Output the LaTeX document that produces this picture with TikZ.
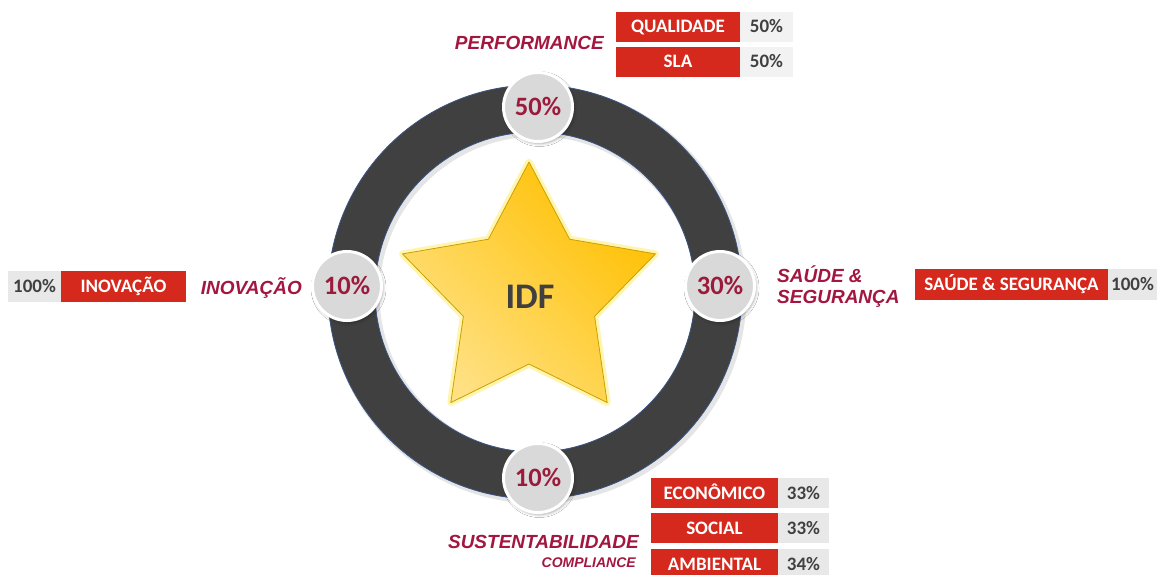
\documentclass[tikz,border=0pt]{standalone}
\usepackage{fontspec}
\setmainfont{Carlito}
\newfontfamily\arialf{Liberation Sans}
\usetikzlibrary{shadows.blur}
\definecolor{ringgray}{HTML}{404040}
\definecolor{ringedge}{HTML}{3A5585}
\definecolor{circfill}{HTML}{D9D9D9}
\definecolor{pcttext}{HTML}{9B1B3C}
\definecolor{labcol}{HTML}{A3163F}
\definecolor{boxred}{HTML}{D6291E}
\definecolor{boxgray}{HTML}{E8E8E8}
\definecolor{boxgraylt}{HTML}{F2F2F2}
\definecolor{txtdark}{HTML}{404040}
\definecolor{starlight}{HTML}{FFE184}
\definecolor{stardark}{HTML}{FFC000}
\definecolor{staredge}{HTML}{C9A000}
\definecolor{starglow}{HTML}{FFF39A}
\begin{document}
\begin{tikzpicture}[x=1pt,y=-1pt,
  pctcircle/.style={circle, fill=circfill, draw=white, line width=3, minimum size=69,
    inner sep=0, font=\fontsize{26.5}{26.5}\selectfont\bfseries, text=pcttext,
    text height=16.7, text depth=0,
    blur shadow={shadow xshift=1.5pt, shadow yshift=-2pt, shadow blur radius=3pt, shadow opacity=35}},
  redbox/.style={fill=boxred, text=white, inner sep=0, minimum height=30,
    font=\fontsize{19}{19}\selectfont\bfseries, text height=12, text depth=0},
  graybox/.style={fill=boxgray, text=txtdark, inner sep=0, minimum height=30,
    font=\fontsize{19}{19}\selectfont\bfseries, text height=12, text depth=0},
  lbl/.style={font=\arialf\fontsize{19}{22}\selectfont\bfseries\itshape, text=labcol, inner sep=0},
  smalllbl/.style={font=\arialf\fontsize{14}{16}\selectfont\bfseries\itshape, text=labcol, inner sep=0}
]
\fill[white] (0,0) rectangle (1157,575);
\useasboundingbox (0,0) rectangle (1157,575);

% ring shadow
\fill[black, opacity=0.10, even odd rule] (537.5,294.5) circle[radius=209] (537.5,294.5) circle[radius=158];
% ring
\fill[ringgray, even odd rule] (535,292) circle[radius=207] (535,292) circle[radius=160];
\draw[ringedge, line width=0.8] (535,292) circle[radius=207];
\draw[ringedge, line width=0.8] (535,292) circle[radius=160];

% star
\path[draw=starglow, line width=7, line join=round, opacity=0.8]
  (529,162) -- (569.6,239.2) -- (655.5,253.9) -- (594.6,316.3) -- (607.2,402.6)
  -- (529,364) -- (450.8,402.6) -- (463.4,316.3) -- (402.5,253.9) -- (488.4,239.2) -- cycle;
\shade[top color=stardark, bottom color=starlight, shading angle=-45]
  (529,162) -- (569.6,239.2) -- (655.5,253.9) -- (594.6,316.3) -- (607.2,402.6)
  -- (529,364) -- (450.8,402.6) -- (463.4,316.3) -- (402.5,253.9) -- (488.4,239.2) -- cycle;
\draw[staredge, line width=0.8, line join=round]
  (529,162) -- (569.6,239.2) -- (655.5,253.9) -- (594.6,316.3) -- (607.2,402.6)
  -- (529,364) -- (450.8,402.6) -- (463.4,316.3) -- (402.5,253.9) -- (488.4,239.2) -- cycle;
\node[font=\fontsize{36}{36}\selectfont\bfseries, text=txtdark, inner sep=0,
  text height=22.8, text depth=0] (idf) at (530,297) {IDF};

% percentage circles
\node[pctcircle] (ptop) at (538,107) {50\%};
\node[pctcircle] (pleft) at (347,286) {10\%};
\node[pctcircle] (pright) at (720,286) {30\%};
\node[pctcircle] (pbottom) at (538,478) {10\%};

% labels
\node[lbl, anchor=base east] (perf) at (604,50) {PERFORMANCE};
\node[lbl, anchor=base east] (inovlab) at (302,294) {INOVAÇÃO};
\node[lbl, anchor=base west] (saude1) at (777,282) {SAÚDE \&};
\node[lbl, anchor=base west] (saude2) at (777,303) {SEGURANÇA};
\node[lbl, anchor=base east] (sust) at (639,548) {SUSTENTABILIDADE};
\node[smalllbl, anchor=base east] (compl) at (636,567) {COMPLIANCE};

% performance boxes
\node[redbox, minimum width=124] (qual) at (678,27) {QUALIDADE};
\node[graybox, fill=boxgraylt, minimum width=53] (qualp) at (766.5,27) {50\%};
\node[redbox, minimum width=124] (sla) at (678,62) {SLA};
\node[graybox, fill=boxgraylt, minimum width=53] (slap) at (766.5,62) {50\%};

% inovacao boxes
\node[graybox, minimum width=53, minimum height=31] (inovp) at (34.5,286.5) {100\%};
\node[redbox, minimum width=125, minimum height=31] (inov) at (123.5,286.5) {INOVAÇÃO};

% saude boxes
\node[redbox, minimum width=193, minimum height=31] (saude) at (1011.5,284.5) {SAÚDE \& SEGURANÇA};
\node[graybox, minimum width=49, minimum height=31] (saudep) at (1132.5,284.5) {100\%};

% sustentabilidade boxes
\node[redbox, minimum width=127] (econ) at (714.5,493) {ECONÔMICO};
\node[graybox, minimum width=51] (econp) at (803.5,493) {33\%};
\node[redbox, minimum width=127] (soc) at (714.5,528) {SOCIAL};
\node[graybox, minimum width=51] (socp) at (803.5,528) {33\%};
\node[redbox, minimum width=127] (amb) at (714.5,564) {AMBIENTAL};
\node[graybox, minimum width=51] (ambp) at (803.5,564) {34\%};
\end{tikzpicture}
\end{document}
